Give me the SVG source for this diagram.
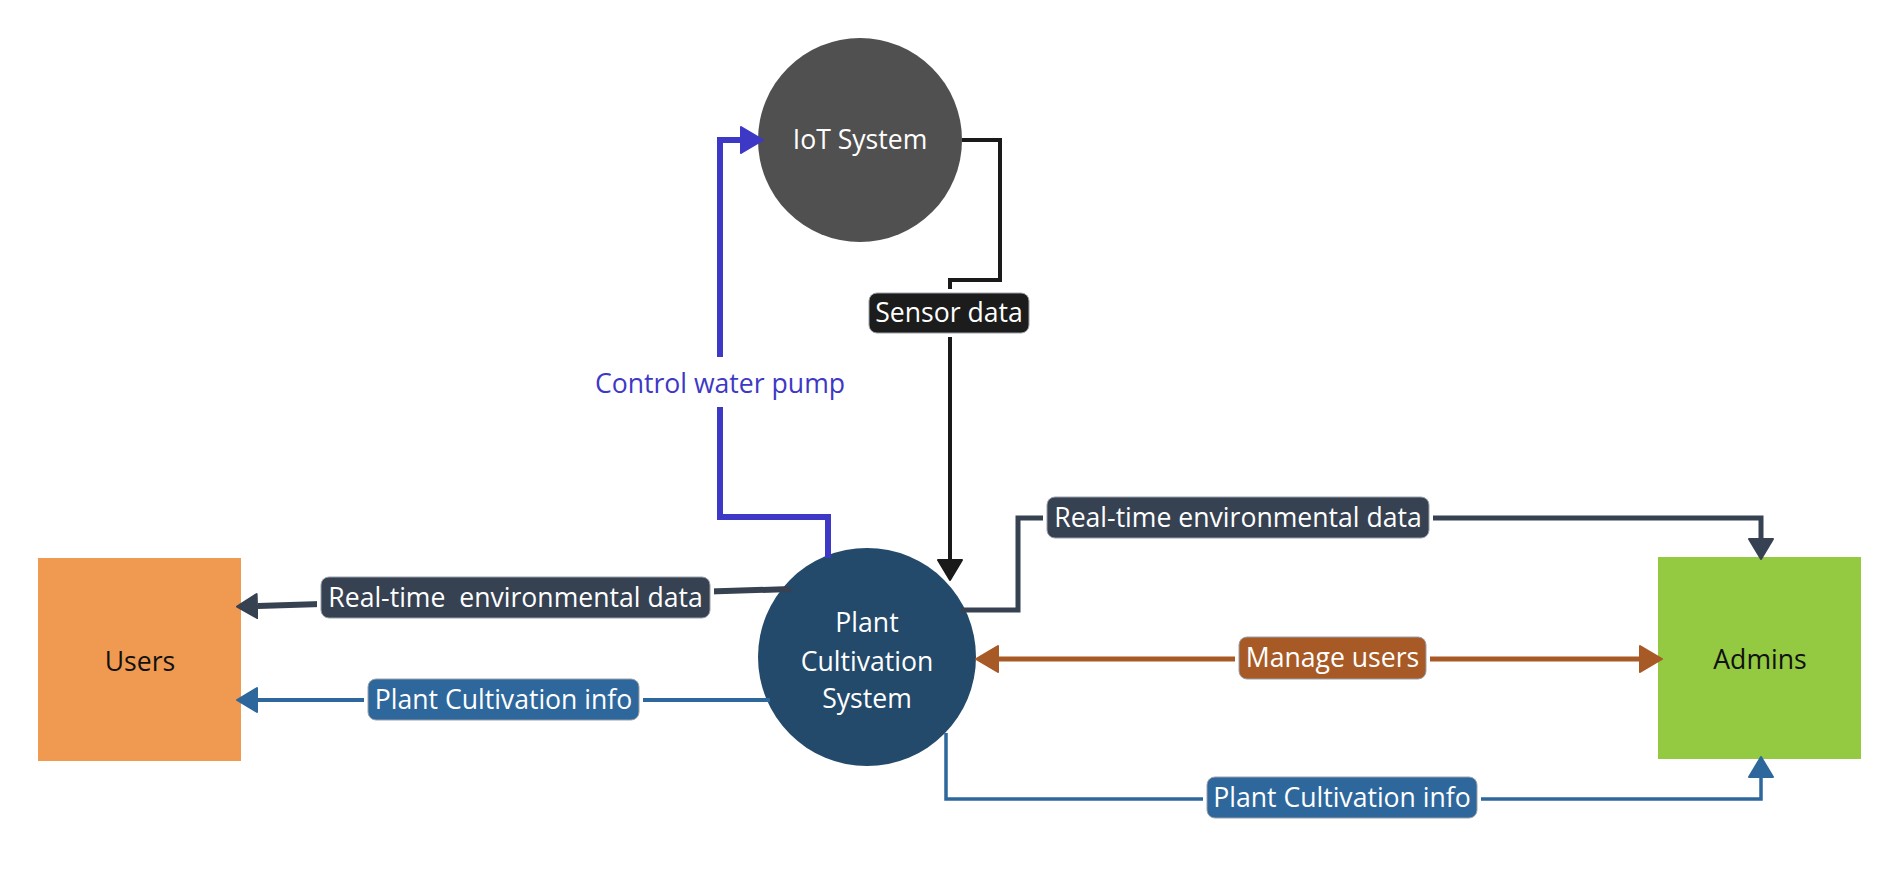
<svg xmlns="http://www.w3.org/2000/svg" width="1900" height="875" viewBox="0 0 1900 875">
<style>
  text { font-family: "Open Sans", "Noto Sans", "DejaVu Sans", sans-serif; font-size: 26.6px; }
  .w { fill: #ffffff; }
  .c { text-anchor: middle; }
  .k { fill: #111111; }
  .ln { fill: none; stroke-linejoin: miter; }
  .halo { fill: #ffffff; }
  .lbl { stroke: #9aa0a8; stroke-width: 1; }
</style>
<defs>
  <marker id="aBlack" viewBox="0 0 22 28" refX="0" refY="14" markerWidth="22" markerHeight="28" markerUnits="userSpaceOnUse" orient="auto">
    <path d="M1,2 L21,14 L1,26 Z" fill="#1a1a1a" stroke="#1a1a1a" stroke-width="2" stroke-linejoin="round"/>
  </marker>
  <marker id="aPump" viewBox="0 0 24 30" refX="0" refY="15" markerWidth="24" markerHeight="30" markerUnits="userSpaceOnUse" orient="auto">
    <path d="M1,2 L23,15 L1,28 Z" fill="#3e38c6" stroke="#3e38c6" stroke-width="2" stroke-linejoin="round"/>
  </marker>
  <marker id="aSlate" viewBox="0 0 22 28" refX="0" refY="14" markerWidth="22" markerHeight="28" markerUnits="userSpaceOnUse" orient="auto">
    <path d="M1,2 L21,14 L1,26 Z" fill="#364152" stroke="#364152" stroke-width="2" stroke-linejoin="round"/>
  </marker>
  <marker id="aInfo" viewBox="0 0 22 28" refX="0" refY="14" markerWidth="22" markerHeight="28" markerUnits="userSpaceOnUse" orient="auto">
    <path d="M1,2 L21,14 L1,26 Z" fill="#2e679c" stroke="#2e679c" stroke-width="2" stroke-linejoin="round"/>
  </marker>
  <marker id="aOrange" viewBox="0 0 24 30" refX="0" refY="15" markerWidth="24" markerHeight="30" markerUnits="userSpaceOnUse" orient="auto">
    <path d="M1,2 L23,15 L1,28 Z" fill="#a85a26" stroke="#a85a26" stroke-width="2" stroke-linejoin="round"/>
  </marker>
  <marker id="aOrangeStart" viewBox="0 0 24 30" refX="24" refY="15" markerWidth="24" markerHeight="30" markerUnits="userSpaceOnUse" orient="auto">
    <path d="M23,2 L1,15 L23,28 Z" fill="#a85a26" stroke="#a85a26" stroke-width="2" stroke-linejoin="round"/>
  </marker>
</defs>
<rect x="0" y="0" width="1900" height="875" fill="#ffffff"/>

<g id="iot">
  <circle cx="860" cy="140" r="102" fill="#505050"/>
  <text class="w c" x="860" y="149">IoT System</text>
</g>

<g id="plant">
  <circle cx="867" cy="657" r="109" fill="#234a6b"/>
  <text class="w c" x="867" y="632">Plant</text>
  <text class="w c" x="867" y="671">Cultivation</text>
  <text class="w c" x="867" y="708">System</text>
</g>

<g id="users">
  <rect x="38" y="558" width="203" height="203" fill="#ef9a50"/>
  <text class="k c" x="140" y="671">Users</text>
</g>

<g id="admins">
  <rect x="1658" y="557" width="203" height="202" fill="#94c942"/>
  <text class="k c" x="1760" y="669">Admins</text>
</g>

<g id="connectors">
  <!-- Sensor data -->
  <path class="ln" d="M962,140 L1000,140 L1000,280 L950,280 L950,559" stroke="#1a1a1a" stroke-width="4"/>
  <path class="ln" d="M950,330 L950,559" stroke="#1a1a1a" stroke-width="4" marker-end="url(#aBlack)"/>
  <rect class="halo" x="865" y="289" width="168" height="48" rx="10"/>
  <rect class="lbl" x="869" y="293" width="160" height="40" rx="8" fill="#1c1c1c"/>
  <text class="w c" x="949" y="322">Sensor data</text>

  <!-- Control water pump -->
  <path class="ln" d="M828,558 L828,517 L720,517 L720,140 L740,140" stroke="#3e38c6" stroke-width="6" marker-end="url(#aPump)"/>
  <rect class="halo" x="586" y="357" width="268" height="50"/>
  <text class="c" x="720" y="393" fill="#3e38c6">Control water pump</text>

  <!-- Real-time environmental data to Users -->
  <path class="ln" d="M791,589 L258,606" stroke="#364152" stroke-width="6" marker-end="url(#aSlate)"/>
  <rect class="halo" x="317" y="573" width="397" height="49" rx="10"/>
  <rect class="lbl" x="321" y="577" width="389" height="41" rx="8" fill="#364152"/>
  <text class="w c" x="515.5" y="607" style="white-space:pre">Real-time  environmental data</text>

  <!-- Plant Cultivation info to Users -->
  <path class="ln" d="M770,700 L258,700" stroke="#2e679c" stroke-width="4" marker-end="url(#aInfo)"/>
  <rect class="halo" x="364" y="675" width="279" height="49" rx="10"/>
  <rect class="lbl" x="368" y="679" width="271" height="41" rx="8" fill="#2e679c"/>
  <text class="w c" x="503.5" y="709">Plant Cultivation info</text>

  <!-- Real-time environmental data to Admins -->
  <path class="ln" d="M961,610 L1018,610 L1018,518 L1761,518 L1761,538" stroke="#364152" stroke-width="5" marker-end="url(#aSlate)"/>
  <rect class="halo" x="1043" y="493" width="390" height="49" rx="10"/>
  <rect class="lbl" x="1047" y="497" width="382" height="41" rx="8" fill="#364152"/>
  <text class="w c" x="1238" y="527">Real-time environmental data</text>

  <!-- Manage users -->
  <path class="ln" d="M999,659 L1639,659" stroke="#a85a26" stroke-width="5" marker-start="url(#aOrangeStart)" marker-end="url(#aOrange)"/>
  <rect class="halo" x="1235" y="633" width="195" height="50" rx="10"/>
  <rect class="lbl" x="1239" y="637" width="187" height="42" rx="8" fill="#a85a26"/>
  <text class="w c" x="1332.5" y="667">Manage users</text>

  <!-- Plant Cultivation info to Admins -->
  <path class="ln" d="M946,733 L946,799 L1761,799 L1761,778" stroke="#2e679c" stroke-width="3.5" marker-end="url(#aInfo)"/>
  <rect class="halo" x="1203" y="773" width="278" height="49" rx="10"/>
  <rect class="lbl" x="1207" y="777" width="270" height="41" rx="8" fill="#2e679c"/>
  <text class="w c" x="1342" y="807">Plant Cultivation info</text>
</g>
</svg>
